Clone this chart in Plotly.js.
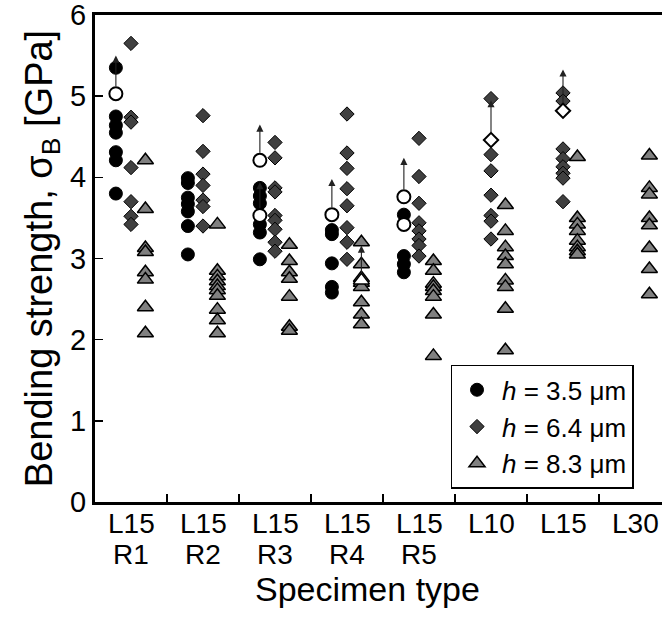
<!DOCTYPE html>
<html>
<head>
<meta charset="utf-8">
<script src="https://cdn.plot.ly/plotly-3.0.1.min.js"></script>
<style>html,body{margin:0;padding:0;background:#fff;}#chart{width:662px;height:621px;}</style>
</head>
<body>
<div id="chart"></div>
<script>
// ---- category labels (two lines) ----
const categoryTop = ['L15', 'L15', 'L15', 'L15', 'L15', 'L10', 'L15', 'L30'];
const categoryBottom = ['R1', 'R2', 'R3', 'R4', 'R5', '', '', ''];

// ---- h = 3.5 um (circles), values per category ----
const h35Values = [
  [5.35, 4.75, 4.64, 4.55, 4.31, 4.21, 3.80],
  [3.99, 3.93, 3.75, 3.67, 3.58, 3.40, 3.05],
  [3.87, 3.77, 3.68, 3.42, 3.32, 2.99],
  [3.35, 3.30, 2.94, 2.65, 2.58],
  [3.54, 3.03, 2.93, 2.83],
  [], [], []
];
// open (unbroken) points: category index, value, arrow tip value (null = no arrow)
const h35OpenCat = [0, 2, 2, 3, 4, 4];
const h35OpenVal = [5.03, 4.21, 3.53, 3.54, 3.76, 3.42];
const h35OpenArrow = [5.50, 4.65, 3.94, 3.98, 4.24, null];

// ---- h = 6.4 um (diamonds) ----
const h64Values = [
  [5.65, 4.74, 4.68, 4.12, 3.70, 3.52, 3.42],
  [4.76, 4.32, 4.04, 3.90, 3.72, 3.64, 3.40],
  [4.43, 4.24, 3.87, 3.82, 3.53, 3.47, 3.36, 3.20, 3.09],
  [4.78, 4.30, 4.11, 3.86, 3.65, 3.38, 3.20, 2.99],
  [4.48, 4.01, 3.68, 3.44, 3.34, 3.24, 3.16, 3.03],
  [4.97, 4.28, 4.08, 3.78, 3.53, 3.46, 3.24],
  [5.04, 4.94, 4.35, 4.23, 4.13, 4.05, 3.99, 3.70],
  []
];
const h64OpenCat = [5, 6];
const h64OpenVal = [4.46, 4.82];
const h64OpenArrow = [4.95, 5.33];

// ---- h = 8.3 um (triangles) ----
const h83Values = [
  [4.21, 3.61, 3.13, 3.08, 2.83, 2.74, 2.40, 2.08],
  [3.42, 2.85, 2.78, 2.72, 2.66, 2.61, 2.54, 2.37, 2.24, 2.08],
  [3.17, 2.97, 2.83, 2.75, 2.53, 2.16, 2.11],
  [3.20, 2.93, 2.76, 2.70, 2.65, 2.46, 2.31, 2.19],
  [2.97, 2.85, 2.69, 2.65, 2.60, 2.53, 2.31, 1.80],
  [3.66, 3.34, 3.14, 3.03, 2.93, 2.73, 2.65, 2.38, 1.87],
  [4.25, 3.50, 3.42, 3.34, 3.22, 3.14, 3.09, 3.05],
  [4.27, 3.87, 3.79, 3.50, 3.41, 3.13, 2.87, 2.56]
];
const h83OpenCat = [3];
const h83OpenVal = [2.73];
const h83OpenArrow = [3.16];

const seriesNames = ['<i>h</i> = 3.5 μm', '<i>h</i> = 6.4 μm', '<i>h</i> = 8.3 μm'];

// ---- styling ----
const OFF = [-0.21, 0.0, 0.20];   // horizontal offset of each series within a category
const FONT = 'Liberation Sans, Arial, Helvetica, sans-serif';

function flatten(values, off) {
  const x = [], y = [];
  values.forEach((arr, i) => arr.forEach(v => { x.push(i + off); y.push(v); }));
  return {x, y};
}

const c = flatten(h35Values, OFF[0]);
const d = flatten(h64Values, OFF[1]);
const t = flatten(h83Values, OFF[2]);

const traces = [
  {type: 'scatter', mode: 'markers', name: seriesNames[0], x: c.x, y: c.y,
   marker: {symbol: 'circle', size: 13, color: '#000000', line: {color: '#000000', width: 1}}},
  {type: 'scatter', mode: 'markers', name: seriesNames[1], x: d.x, y: d.y,
   marker: {symbol: 'diamond', size: 11, color: '#404040', line: {color: '#000000', width: 1}}},
  {type: 'scatter', mode: 'markers', name: seriesNames[2], x: t.x, y: t.y,
   marker: {symbol: 'triangle-up', size: 14, color: '#808080', line: {color: '#000000', width: 1.5}}},
  {type: 'scatter', mode: 'markers', showlegend: false,
   x: h35OpenCat.map(i => i + OFF[0]), y: h35OpenVal,
   marker: {symbol: 'circle', size: 13, color: '#ffffff', line: {color: '#000000', width: 2}}},
  {type: 'scatter', mode: 'markers', showlegend: false,
   x: h64OpenCat.map(i => i + OFF[1]), y: h64OpenVal,
   marker: {symbol: 'diamond', size: 11, color: '#ffffff', line: {color: '#000000', width: 2}}},
  {type: 'scatter', mode: 'markers', showlegend: false,
   x: h83OpenCat.map(i => i + OFF[2]), y: h83OpenVal,
   marker: {symbol: 'triangle-up', size: 14, color: '#ffffff', line: {color: '#000000', width: 1.5}}}
];

const annotations = [];
function addArrows(cats, vals, tips, off) {
  cats.forEach((ci, k) => {
    if (tips[k] === null) return;
    annotations.push({x: ci + off, y: tips[k], ax: ci + off, ay: vals[k],
      xref: 'x', yref: 'y', axref: 'x', ayref: 'y', text: '', showarrow: true,
      arrowhead: 2, arrowsize: 1.3, arrowwidth: 1.1, arrowcolor: '#222222', startstandoff: 6});
  });
}
addArrows(h35OpenCat, h35OpenVal, h35OpenArrow, OFF[0]);
addArrows(h64OpenCat, h64OpenVal, h64OpenArrow, OFF[1]);
addArrows(h83OpenCat, h83OpenVal, h83OpenArrow, OFF[2]);

categoryTop.forEach((lab, i) => {
  annotations.push({x: i, y: 0, xref: 'x', yref: 'paper', yanchor: 'top', yshift: -4,
    text: lab, showarrow: false, font: {family: FONT, size: 28, color: '#000'}});
  if (categoryBottom[i]) {
    annotations.push({x: i, y: 0, xref: 'x', yref: 'paper', yanchor: 'top', yshift: -35,
      text: categoryBottom[i], showarrow: false, font: {family: FONT, size: 28, color: '#000'}});
  }
});
annotations.push({x: 0.48, y: 0, xref: 'paper', yref: 'paper', yanchor: 'top', yshift: -66,
  text: 'Specimen type', showarrow: false, font: {family: FONT, size: 34, color: '#000'}});

const boundaries = categoryTop.slice(1).map((_, i) => i + 0.5);

const layout = {
  width: 662, height: 621,
  margin: {l: 95, r: 0, t: 15, b: 119},
  paper_bgcolor: '#ffffff', plot_bgcolor: '#ffffff',
  font: {family: FONT, color: '#000'},
  showlegend: true,
  legend: {x: 0.627, y: 0.027, xanchor: 'left', yanchor: 'bottom',
    bgcolor: '#ffffff', bordercolor: '#000000', borderwidth: 1.5, itemwidth: 40,
    font: {family: FONT, size: 26, color: '#000'}, tracegroupgap: 0},
  xaxis: {range: [-0.5, 7.375], tickvals: boundaries, showticklabels: false,
    ticks: 'inside', ticklen: 8, tickwidth: 1.5, tickcolor: '#000',
    showline: true, linewidth: 3, linecolor: '#000', mirror: true,
    showgrid: false, zeroline: false, fixedrange: true},
  yaxis: {range: [0, 6], dtick: 1, tick0: 0,
    ticks: 'inside', ticklen: 8, tickwidth: 1.5, tickcolor: '#000',
    showline: true, linewidth: 3, linecolor: '#000',
    showgrid: false, zeroline: false, fixedrange: true, ticklabeloverflow: 'allow',
    tickfont: {family: FONT, size: 29, color: '#000'},
    title: {text: 'Bending strength, σ<sub>B</sub> [GPa]', font: {family: FONT, size: 38, color: '#000'}, standoff: 6}},
  annotations: annotations
};

Plotly.newPlot('chart', traces, layout, {displayModeBar: false, staticPlot: true});
</script>
</body>
</html>
